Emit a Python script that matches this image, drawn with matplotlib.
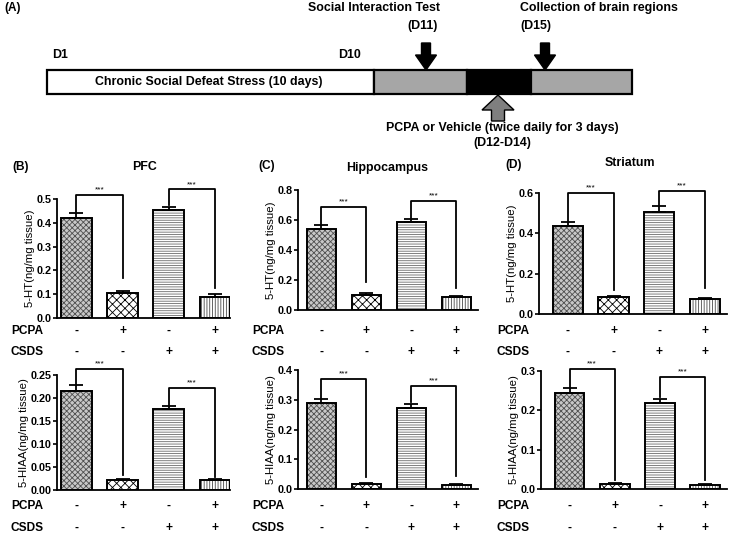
import numpy as np
import matplotlib
matplotlib.use('Agg')
import matplotlib.pyplot as plt
from matplotlib import transforms
from matplotlib.patches import Rectangle, FancyArrow

# ---- data ----
groups_pcpa = ['-', '+', '-', '+']
groups_csds = ['-', '-', '+', '+']
regions = ['PFC', 'Hippocampus', 'Striatum']
panel_tags = ['(B)', '(C)', '(D)']

pfc_ht = [0.42, 0.105, 0.453, 0.09]
pfc_ht_err = [0.022, 0.008, 0.015, 0.009]
hip_ht = [0.54, 0.102, 0.59, 0.086]
hip_ht_err = [0.025, 0.009, 0.018, 0.007]
str_ht = [0.436, 0.082, 0.505, 0.073]
str_ht_err = [0.02, 0.006, 0.03, 0.006]

pfc_hiaa = [0.215, 0.021, 0.177, 0.022]
pfc_hiaa_err = [0.014, 0.002, 0.006, 0.002]
hip_hiaa = [0.29, 0.018, 0.272, 0.015]
hip_hiaa_err = [0.013, 0.002, 0.015, 0.002]
str_hiaa = [0.243, 0.013, 0.219, 0.011]
str_hiaa_err = [0.013, 0.002, 0.011, 0.002]

ht_vals = [pfc_ht, hip_ht, str_ht]
ht_errs = [pfc_ht_err, hip_ht_err, str_ht_err]
hiaa_vals = [pfc_hiaa, hip_hiaa, str_hiaa]
hiaa_errs = [pfc_hiaa_err, hip_hiaa_err, str_hiaa_err]

ht_ymax = [0.5, 0.8, 0.6]
ht_ticks = [[0.0, 0.1, 0.2, 0.3, 0.4, 0.5], [0.0, 0.2, 0.4, 0.6, 0.8], [0.0, 0.2, 0.4, 0.6]]
hiaa_ymax = [0.25, 0.4, 0.3]
hiaa_ticks = [[0.0, 0.05, 0.10, 0.15, 0.20, 0.25], [0.0, 0.1, 0.2, 0.3, 0.4], [0.0, 0.1, 0.2, 0.3]]
hiaa_fmt = ['%.2f', '%.1f', '%.1f']

# significance brackets: (bracket top, right-end drop) for pair 0-1 and pair 2-3
ht_brackets = [[(0.517, 0.17), (0.54, 0.126)],
               [(0.69, 0.19), (0.73, 0.15)],
               [(0.60, 0.12), (0.61, 0.13)]]
hiaa_brackets = [[(0.263, 0.033), (0.222, 0.028)],
                 [(0.37, 0.04), (0.347, 0.044)],
                 [(0.305, 0.023), (0.285, 0.023)]]

# timeline (day-ish units along the bar)
tl_edges = [0, 10, 12.85, 14.8, 17.9]
tl_colors = ['white', '#a6a6a6', 'black', '#a6a6a6']

W, H = 729, 535
plt.rcParams['font.family'] = ['Liberation Sans', 'DejaVu Sans']
plt.rcParams['font.weight'] = 'bold'
plt.rcParams['hatch.linewidth'] = 0.6
fs_tl = 8.9

fig = plt.figure(figsize=(W / 100, H / 100), dpi=100)
ov = fig.add_axes([0, 0, 1, 1], zorder=-1)
ov.set_xlim(0, W)
ov.set_ylim(H, 0)
ov.axis('off')


def px_axes(l, t, r, b):
    return fig.add_axes([l / W, 1 - b / H, (r - l) / W, (b - t) / H])


# ---- (A) timeline ----
tl = px_axes(47, 70, 632, 94)
tl.set_xlim(tl_edges[0], tl_edges[-1])
tl.set_ylim(0, 1)
tl.axis('off')
for i in range(len(tl_colors)):
    tl.add_patch(Rectangle((tl_edges[i], 0), tl_edges[i + 1] - tl_edges[i], 1,
                           facecolor=tl_colors[i], edgecolor='black', lw=1.6, clip_on=False))
tl.text(4.95, 0.5, 'Chronic Social Defeat Stress (10 days)',
        ha='center', va='center', fontsize=fs_tl)

ov.add_patch(FancyArrow(426, 43, 0, 27, width=9, head_width=21, head_length=15,
                        length_includes_head=True, color='black'))
ov.add_patch(FancyArrow(545, 43, 0, 27, width=9, head_width=21, head_length=15,
                        length_includes_head=True, color='black'))
ov.add_patch(FancyArrow(498, 121, 0, -26, width=13, head_width=32, head_length=15,
                        length_includes_head=True, facecolor='#7f7f7f', edgecolor='black', lw=1))

ov.text(4, 8, '(A)', fontsize=8.5, ha='left', va='center')
ov.text(52, 55, 'D1', fontsize=fs_tl, ha='left', va='center')
ov.text(338, 55, 'D10', fontsize=fs_tl, ha='left', va='center')
ov.text(374, 8, 'Social Interaction Test', fontsize=fs_tl, ha='center', va='center')
ov.text(438, 26, '(D11)', fontsize=fs_tl, ha='right', va='center')
ov.text(520, 8, 'Collection of brain regions', fontsize=fs_tl, ha='left', va='center')
ov.text(520, 26, '(D15)', fontsize=fs_tl, ha='left', va='center')
ov.text(502, 128, 'PCPA or Vehicle (twice daily for 3 days)', fontsize=fs_tl, ha='center', va='center')
ov.text(502, 143, '(D12-D14)', fontsize=fs_tl, ha='center', va='center')

# ---- bar panels ----
ht_rects = [(57, 199, 230, 318), (298, 190, 478, 310), (539, 193, 727, 314)]
hiaa_rects = [(57, 375, 230, 490), (298, 370, 478, 489), (541, 371, 727, 489)]
xlims = [(-0.42, 3.33), (-0.52, 3.48), (-0.63, 3.48)]
row_label_x = [11, 252, 497]
tag_pos = [(12, 167), (258, 166), (505, 165)]
title_pos = [(145, 167), (387, 168), (630, 163)]

face = ['#c8c8c8', 'white', 'white', 'white']
hatches = ['xxxxxx', 'xxxx', '-------', '||||||']
hatch_col = ['#505050', 'black', '#6a6a6a', '#4a4a4a']


def draw_panel(rect, vals, errs, ymax, ticks, fmt, brackets, xl, labx, rows_y, ylabel):
    ax = px_axes(*rect)
    x = np.arange(len(vals))
    for i in range(len(vals)):
        ax.bar(x[i], vals[i], width=0.66, color=face[i], edgecolor=hatch_col[i],
               hatch=hatches[i], linewidth=0, zorder=2)
    ax.bar(x, vals, width=0.66, fill=False, edgecolor='black', linewidth=1.4, zorder=3)
    ax.errorbar(x, vals, yerr=[np.zeros(len(vals)), errs], fmt='none', ecolor='black',
                elinewidth=1.3, capsize=5, capthick=1.3, zorder=4)
    for j, (top, drop) in enumerate(brackets):
        a, b = 2 * j, 2 * j + 1
        start = vals[a] + errs[a] + ymax * 0.01
        ax.plot([x[a], x[a], x[b], x[b]], [start, top, top, drop], color='black',
                lw=1.3, clip_on=False, zorder=5)
        ax.text((x[a] + x[b]) / 2, top + ymax * 0.01, '***', ha='center', va='bottom',
                fontsize=6, fontweight='normal')
    ax.set_xlim(*xl)
    ax.set_ylim(0, ymax)
    ax.set_yticks(ticks)
    ax.yaxis.set_major_formatter(matplotlib.ticker.FormatStrFormatter(fmt))
    ax.set_xticks([])
    for s in ['top', 'right']:
        ax.spines[s].set_visible(False)
    for s in ['left', 'bottom']:
        ax.spines[s].set_linewidth(1.3)
    ax.tick_params(axis='y', direction='out', length=3, width=1.2, labelsize=7.8, pad=1)
    ax.set_ylabel(ylabel, fontsize=8.2, labelpad=1)
    tr = transforms.blended_transform_factory(ax.transData, ov.transData)
    for lab, signs, yy in zip(['PCPA', 'CSDS'], [groups_pcpa, groups_csds], rows_y):
        ov.text(labx, yy, lab, fontsize=8.6, ha='left', va='center')
        for i, sgn in enumerate(signs):
            ax.text(x[i], yy, sgn, transform=tr, ha='center', va='center', fontsize=8.6,
                    clip_on=False)
    return ax


for p in range(3):
    draw_panel(ht_rects[p], ht_vals[p], ht_errs[p], ht_ymax[p], ht_ticks[p], '%.1f',
               ht_brackets[p], xlims[p], row_label_x[p], (331, 352), '5-HT(ng/mg tissue)')
    draw_panel(hiaa_rects[p], hiaa_vals[p], hiaa_errs[p], hiaa_ymax[p], hiaa_ticks[p],
               hiaa_fmt[p], hiaa_brackets[p], xlims[p], row_label_x[p], (506, 528),
               '5-HIAA(ng/mg tissue)')
    ov.text(tag_pos[p][0], tag_pos[p][1], panel_tags[p], fontsize=8.6, ha='left', va='center')
    ov.text(title_pos[p][0], title_pos[p][1], regions[p], fontsize=8.9, ha='center', va='center')

fig.savefig('out.png', dpi=100)
